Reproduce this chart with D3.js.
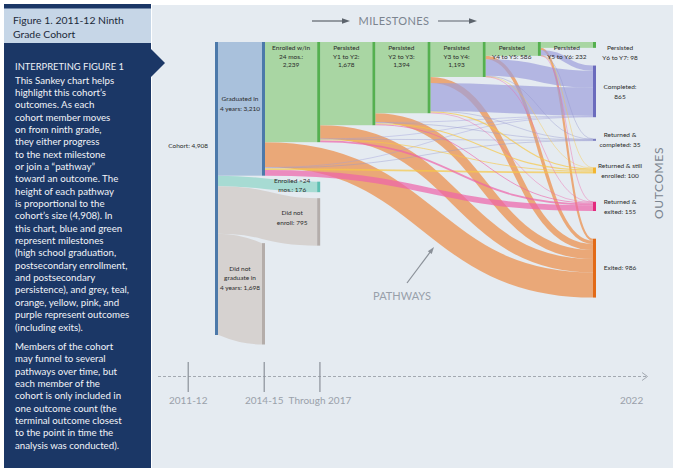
<!DOCTYPE html>
<html><head><meta charset="utf-8">
<script src="https://cdn.jsdelivr.net/npm/d3@7"></script>
<style>body{margin:0;background:#fff}svg{display:block}text{font-family:Lato,"Open Sans",sans-serif}</style>
</head><body><svg id="c" width="680" height="473"></svg>
<script>
// ---------------- DATA ----------------
const milestoneNames = ["Cohort", "Graduated in 4 years", "Enrolled w/in 24 mos.", "Persisted Y1 to Y2", "Persisted Y2 to Y3", "Persisted Y3 to Y4", "Persisted Y4 to Y5", "Persisted Y5 to Y6", "Persisted Y6 to Y7"];
const milestoneValues = [4908, 3210, 2239, 1678, 1394, 1193, 586, 232, 98];
const milestoneLabels = ["Cohort: {v}", "Graduated in|4 years: {v}", "Enrolled w/in|24 mos.:|{v}", "Persisted|Y1 to Y2:|{v}", "Persisted|Y2 to Y3:|{v}", "Persisted|Y3 to Y4:|{v}", "Persisted|Y4 to Y5: {v}", "Persisted|Y5 to Y6: {v}", "Persisted|Y6 to Y7: {v}"];

const earlyNames = ["Enrolled >24 mos.", "Did not enroll", "Did not graduate in 4 years"];
const earlyValues = [176, 795, 1698];
const earlyLabels = ["Enrolled >24|mos.: {v}", "Did not|enroll: {v}", "Did not|graduate in|4 years: {v}"];

const outcomeNames = ["Persisted Y6 to Y7", "Completed", "Returned & completed", "Returned & still enrolled", "Returned & exited", "Exited"];
const outcomeValues = [98, 865, 35, 100, 155, 986];
const outcomeLabels = ["Persisted|Y6 to Y7: {v}", "Completed:|{v}", "Returned &|completed: {v}", "Returned & still|enrolled: {v}", "Returned &|exited: {v}", "Exited: {v}"];

// leavers from each milestone (Enrolled, Y1-Y2, Y2-Y3, Y3-Y4, Y4-Y5, Y5-Y6) by outcome
const leaverSources = ["Enrolled w/in 24 mos.", "Persisted Y1 to Y2", "Persisted Y2 to Y3", "Persisted Y3 to Y4", "Persisted Y4 to Y5", "Persisted Y5 to Y6"];
const toExited        = [420, 225, 150, 100,  55, 36];
const toCompleted     = [  8,   8,  10, 470, 280, 89];
const toRetCompleted  = [  8,   6,   6,   7,   5,  3];
const toRetStill      = [ 30,  15,  20,  20,  10,  5];
const toRetExited     = [ 95,  30,  15,  10,   4,  1];

const timelineLabels = ["2011-12", "2014-15", "Through 2017", "2022"];

const para1 = ["This Sankey chart helps","highlight this cohort’s","outcomes. As each","cohort member moves","on from ninth grade,","they either progress","to the next milestone","or join a “pathway”","toward an outcome. The","height of each pathway","is proportional to the","cohort’s size (4,908). In","this chart, blue and green","represent milestones","(high school graduation,","postsecondary enrollment,","and postsecondary","persistence), and grey, teal,","orange, yellow, pink, and","purple represent outcomes","(including exits)."];
const para2 = ["Members of the cohort","may funnel to several","pathways over time, but","each member of the","cohort is only included in","one outcome count (the","terminal outcome closest","to the point in time the","analysis was conducted)."];

// ---------------- LAYOUT / STYLE ----------------
const svg = d3.select("#c");
const fmt = d3.format(",");
const C = {
  navy:"#1b3766", header:"#c6d6e7", panel:"#e5ebf1",
  blue:"#4c79aa", lightBlue:"#a9c1dc", green:"#55b04f", lightGreen:"#a9d6a3",
  teal:"#5dbfb1", lightTeal:"#a7dbd3", grey:"#b4adaa", lightGrey:"#d6d2d0",
  text:"#2b2b2b", axis:"#9aa1aa"
};
const outcomeStyle = [
  {bar:C.green, link:C.lightGreen},
  {bar:"#6b6bbd", link:"#9e9fdc"},
  {bar:"#7d7fc0", link:"#9597d0"},
  {bar:"#f2b531", link:"#f7c746"},
  {bar:"#e3297d", link:"#ee63aa"},
  {bar:"#e26a17", link:"#ec8b44"}
];

// page decoration
svg.append("rect").attr("x",152).attr("y",5).attr("width",521).attr("height",463).attr("fill",C.panel);
svg.append("rect").attr("x",4).attr("y",4).attr("width",147).attr("height",464).attr("fill",C.navy);
svg.append("rect").attr("x",4).attr("y",8.5).attr("width",147).attr("height",34.5).attr("fill",C.header);
svg.append("path").attr("d","M150,48 L165,63 L150,78 Z").attr("fill",C.navy);

svg.append("text").attr("x",13).attr("y",23.5).attr("font-size",10.4).attr("fill","#1c2a3a").text("Figure 1. 2011-12 Ninth");
svg.append("text").attr("x",13).attr("y",37.5).attr("font-size",10.4).attr("fill","#1c2a3a").text("Grade Cohort");
svg.append("text").attr("x",15).attr("y",69.5).attr("font-size",9.4).attr("fill","#eef1f6").text("INTERPRETING FIGURE 1");
const lh = 12.35;
svg.append("g").selectAll("text").data(para1).join("text")
  .attr("x",15).attr("y",(d,i)=>83.5+i*lh).attr("font-size",9.7).attr("fill","#f2f4f8").text(d=>d);
svg.append("g").selectAll("text").data(para2).join("text")
  .attr("x",15).attr("y",(d,i)=>350+i*lh).attr("font-size",9.7).attr("fill","#f2f4f8").text(d=>d);

// scales
const TOP = 42, BW = 3;
const thick = d3.scaleLinear().domain([0, milestoneValues[0]]).range([0, 293]);
const col = d3.scaleLinear().domain([0, 1, 7]).range([215, 262, 593]);
const link = d3.linkHorizontal().x(d=>d[0]).y(d=>d[1]);

const gLinks = svg.append("g"), gBoxes = svg.append("g"), gBars = svg.append("g"), gText = svg.append("g");

function multiline(g, lines, x, yCenter, size, spacing, anchor="middle"){
  const n = lines.length;
  g.append("text").attr("x",x).attr("font-size",size).attr("fill",C.text).attr("text-anchor",anchor)
    .selectAll("tspan").data(lines).join("tspan")
    .attr("x",x).attr("y",(d,i)=>yCenter + (i-(n-1)/2)*spacing + size*0.35).text(d=>d);
}
const lab = (tpl, v) => tpl.replace("{v}", fmt(v)).split("|");

// milestone bars: cohort at column 0, Enrolled..Y6-Y7 at columns 1..7
const bars = [{c:0, v:milestoneValues[0], fill:C.blue}]
  .concat(milestoneValues.slice(2).map((v,i)=>({c:i+1, v, fill: i===0 ? C.blue : C.green})));

// straight continuing boxes
const boxes = bars.slice(1).map(b=>({c0:b.c-1, c1:b.c, v:b.v, fill: b.c===1 ? C.lightBlue : C.lightGreen}));
gBoxes.selectAll("rect").data(boxes).join("rect")
  .attr("x",d=>col(d.c0)+BW).attr("y",TOP)
  .attr("width",d=>col(d.c1)-col(d.c0)-BW).attr("height",d=>thick(d.v)).attr("fill",d=>d.fill);

// early exits (from cohort)
const gradEnrolledBottom = TOP + thick(milestoneValues[2]);
const earlyNodes = [];
{
  let y = gradEnrolledBottom + 6;
  earlyNodes.push({c:2, v:earlyValues[0], y0:y, sy:gradEnrolledBottom, fill:C.teal, lf:C.lightTeal});
  y += thick(earlyValues[0]) + 6;
  earlyNodes.push({c:2, v:earlyValues[1], y0:y, sy:gradEnrolledBottom+thick(earlyValues[0]), fill:C.grey, lf:C.lightGrey});
  earlyNodes.push({c:1, v:earlyValues[2], y0:TOP+thick(milestoneValues[1])+9.5, sy:TOP+thick(milestoneValues[1]), fill:C.grey, lf:C.lightGrey});
}

// outcome nodes at column 7
const outcomeGaps = [17.7, 21.6, 26.6, 28.3, 27.7];
const outcomes = [];
{
  let y = TOP;
  outcomeValues.forEach((v,i)=>{ outcomes.push({i, v, y0:y, y1:y+thick(v), inY:y}); y += thick(v) + (outcomeGaps[i]||0); });
}

// leaver links
const leaverArrays = [toExited, toCompleted, toRetCompleted, toRetStill, toRetExited];
const leaverTargets = [5, 1, 2, 3, 4];
const leaverLinks = [];
leaverSources.forEach((s,si)=>{
  const c = si + 1;
  let sy = TOP + thick(milestoneValues[si+3]);
  leaverArrays.forEach((arr,k)=>{
    const v = arr[si], w = thick(v);
    leaverLinks.push({c, v, w, sy: sy + w/2, t: leaverTargets[k]});
    sy += w;
  });
});
// target offsets: highest source (latest column) first
outcomes.forEach(o=>{
  leaverLinks.filter(l=>l.t===o.i).sort((a,b)=>b.c-a.c).forEach(l=>{ l.ty = o.inY + l.w/2; o.inY += l.w; });
});

// draw early links
gLinks.selectAll("path.early").data(earlyNodes).join("path").attr("class","early")
  .attr("d",d=>{const w=thick(d.v); return link({source:[col(0)+BW, d.sy+w/2], target:[col(d.c), d.y0+w/2]});})
  .attr("fill","none").attr("stroke",d=>d.lf).attr("stroke-width",d=>thick(d.v));

// draw leaver links (orange first, then others on top)
const drawOrder = [5, 1, 2, 3, 4];
drawOrder.forEach(t=>{
  gLinks.append("g").selectAll("path").data(leaverLinks.filter(l=>l.t===t)).join("path")
    .attr("d",d=>link({source:[col(d.c)+BW, d.sy], target:[col(7), d.ty]}))
    .attr("fill","none").attr("stroke",outcomeStyle[t].link).attr("stroke-opacity",0.7)
    .attr("stroke-width",d=>Math.max(d.w,0.6));
});

// bars
gBars.selectAll("rect.m").data(bars).join("rect").attr("class","m")
  .attr("x",d=>col(d.c)).attr("y",TOP).attr("width",BW).attr("height",d=>thick(d.v)).attr("fill",d=>d.fill);
gBars.selectAll("rect.e").data(earlyNodes).join("rect").attr("class","e")
  .attr("x",d=>col(d.c)).attr("y",d=>d.y0).attr("width",BW).attr("height",d=>thick(d.v)).attr("fill",d=>d.fill);
gBars.selectAll("rect.o").data(outcomes.slice(1)).join("rect").attr("class","o")
  .attr("x",col(7)).attr("y",d=>d.y0).attr("width",BW).attr("height",d=>Math.max(thick(d.v),2)).attr("fill",d=>outcomeStyle[d.i].bar);

// labels
const FS = 6.5, SP = 8.7;
multiline(gText, lab(milestoneLabels[0], milestoneValues[0]), col(0)-7, 146, FS, SP, "end");
multiline(gText, lab(milestoneLabels[1], milestoneValues[1]), (col(0)+BW+col(1))/2, TOP+thick(milestoneValues[2])/2-5, FS, 10.5);
for (let c=1; c<=6; c++){
  const lines = lab(milestoneLabels[c+1], milestoneValues[c+1]);
  multiline(gText, lines, (col(c)+BW+col(c+1))/2, TOP+5.7+(lines.length-1)*SP/2, FS, SP);
}
multiline(gText, lab(earlyLabels[0], earlyValues[0]), col(2)-25, earlyNodes[0].y0+3.5, FS, 8.3);
multiline(gText, lab(earlyLabels[1], earlyValues[1]), col(2)-25, earlyNodes[1].y0+20, FS, 10);
multiline(gText, lab(earlyLabels[2], earlyValues[2]), (col(0)+BW+col(1))/2, earlyNodes[2].y0+35, FS, 9.8);
outcomes.forEach(o=>{
  const lines = lab(outcomeLabels[o.i], o.v);
  let yc = (o.y0+o.y1)/2;
  yc = Math.max(yc, TOP + 5.7 + (lines.length-1)*5);
  multiline(gText, lines, col(7)+27, yc, FS, 10);
});

// headers: MILESTONES, OUTCOMES, PATHWAYS
const gA = svg.append("g");
function arrow(g, x1,y1,x2,y2,color,w,head){
  const a = Math.atan2(y2-y1,x2-x1);
  g.append("line").attr("x1",x1).attr("y1",y1).attr("x2",x2-Math.cos(a)*head*0.8).attr("y2",y2-Math.sin(a)*head*0.8).attr("stroke",color).attr("stroke-width",w);
  const p = [[x2,y2],[x2-head*Math.cos(a)+head*0.35*Math.sin(a), y2-head*Math.sin(a)-head*0.35*Math.cos(a)],[x2-head*Math.cos(a)-head*0.35*Math.sin(a), y2-head*Math.sin(a)+head*0.35*Math.cos(a)]];
  g.append("path").attr("d","M"+p.join("L")+"Z").attr("fill",color);
}
arrow(gA, 312,21,350,21,"#5c636c",1.2,8);
arrow(gA, 438,21,477,21,"#5c636c",1.2,8);
gA.append("text").attr("x",394).attr("y",25).attr("text-anchor","middle").attr("font-size",11).attr("letter-spacing",0.4).attr("fill","#7b848f").text("MILESTONES");
gA.append("text").attr("transform","translate(663,183) rotate(-90)").attr("text-anchor","middle").attr("font-size",12).attr("letter-spacing",0.6).attr("fill","#7b848f").text("OUTCOMES");
arrow(gA, 407,283,434,247,"#8a9098",1.2,7);
gA.append("text").attr("x",402).attr("y",300).attr("text-anchor","middle").attr("font-size",11).attr("fill","#98a0aa").text("PATHWAYS");

// timeline
const tPos = [-0.57, 1.04, 2.05, 7.7];
const gT = svg.append("g");
gT.append("line").attr("x1",158).attr("x2",647).attr("y1",376.5).attr("y2",376.5).attr("stroke","#a3a9b1").attr("stroke-width",1).attr("stroke-dasharray","3,2");
gT.append("path").attr("d","M642,372.5L647.5,376.5L642,380.5").attr("fill","none").attr("stroke","#a3a9b1").attr("stroke-width",1);
gT.selectAll("line.tk").data(timelineLabels.slice(0,3)).join("line").attr("class","tk")
  .attr("x1",(d,i)=>col(tPos[i])).attr("x2",(d,i)=>col(tPos[i])).attr("y1",362).attr("y2",392).attr("stroke","#8b9199").attr("stroke-width",1.2);
gT.selectAll("text").data(timelineLabels).join("text")
  .attr("x",(d,i)=>col(tPos[i])).attr("y",403.5).attr("text-anchor","middle").attr("font-size",10).attr("fill",C.axis).text(d=>d);
</script></body></html>
